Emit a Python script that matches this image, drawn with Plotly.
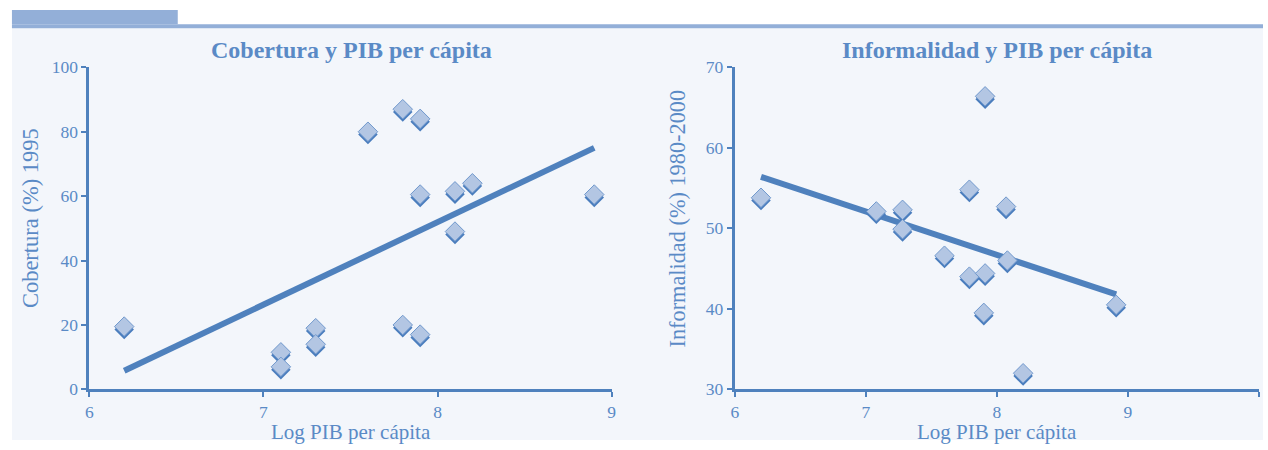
import plotly.graph_objects as go

W, H = 1268, 450

# Left chart: Cobertura (%) 1995 vs Log PIB per cápita
cob_x = [6.2, 7.1, 7.1, 7.3, 7.3, 7.6, 7.8, 7.9, 7.8, 7.9, 7.9, 8.1, 8.1, 8.2, 8.9]
cob_y = [19.5, 11.5, 7.0, 19.0, 14.0, 80.0, 87.0, 84.0, 20.0, 17.0, 60.5, 61.5, 49.0, 64.0, 60.5]
cob_fit_x = [6.2, 8.9]
cob_fit_y = [5.8, 75.0]

# Right chart: Informalidad (%) 1980-2000 vs Log PIB per cápita
inf_x = [6.2, 7.08, 7.28, 7.28, 7.6, 7.79, 7.79, 7.91, 7.91, 7.9, 8.07, 8.08, 8.2, 8.91]
inf_y = [53.8, 52.1, 52.3, 49.9, 46.6, 54.8, 44.0, 66.4, 44.4, 39.5, 52.7, 46.0, 32.0, 40.5]
inf_fit_x = [6.2, 8.91]
inf_fit_y = [56.4, 41.8]

left_xticks = [6, 7, 8, 9]
left_yticks = [0, 20, 40, 60, 80, 100]
right_xticks = [6, 7, 8, 9, 10]
right_yticks = [30, 40, 50, 60, 70]

BLUE = "#4f81bd"
TXT = "#5a8ac6"
FILL = "#b3c6e3"
EDGE = "#7199cd"
SHADOW = "#4a7dbd"
PANEL = "#f3f6fb"
BAND = "#93afd8"
FONT = "Liberation Serif"

# pixel layout
L_X0, L_X1 = 86, 612
R_X0, R_X1 = 736, 1264
Y_TOP, Y_BOT = 60, 397

def px(x):
    return x / W

def py(y):
    return 1 - y / H

fig = go.Figure()

# shadow offsets (3px expressed in each y-axis' units)
l_off = 3 * (100 - 0) / (Y_BOT - Y_TOP)
r_off = 3 * (70 - 30) / (Y_BOT - Y_TOP)

MS = 15

fig.add_trace(go.Scatter(x=cob_fit_x, y=cob_fit_y, mode="lines",
                         line=dict(color=BLUE, width=6), xaxis="x", yaxis="y",
                         showlegend=False, hoverinfo="skip"))
fig.add_trace(go.Scatter(x=cob_x, y=[v - l_off for v in cob_y], mode="markers",
                         marker=dict(symbol="diamond", size=MS, color=SHADOW,
                                     line=dict(width=0)),
                         xaxis="x", yaxis="y", showlegend=False, hoverinfo="skip"))
fig.add_trace(go.Scatter(x=cob_x, y=cob_y, mode="markers",
                         marker=dict(symbol="diamond", size=MS, color=FILL,
                                     line=dict(width=1, color=EDGE)),
                         xaxis="x", yaxis="y", showlegend=False))

fig.add_trace(go.Scatter(x=inf_fit_x, y=inf_fit_y, mode="lines",
                         line=dict(color=BLUE, width=6), xaxis="x2", yaxis="y2",
                         showlegend=False, hoverinfo="skip"))
fig.add_trace(go.Scatter(x=inf_x, y=[v - r_off for v in inf_y], mode="markers",
                         marker=dict(symbol="diamond", size=MS, color=SHADOW,
                                     line=dict(width=0)),
                         xaxis="x2", yaxis="y2", showlegend=False, hoverinfo="skip"))
fig.add_trace(go.Scatter(x=inf_x, y=inf_y, mode="markers",
                         marker=dict(symbol="diamond", size=MS, color=FILL,
                                     line=dict(width=1, color=EDGE)),
                         xaxis="x2", yaxis="y2", showlegend=False))

axis_common = dict(showgrid=False, zeroline=False, showline=True, linecolor=BLUE,
                   linewidth=3, ticks="outside", ticklen=5, tickwidth=2,
                   tickcolor=BLUE, tickfont=dict(family=FONT, size=17.5, color=TXT),
                   fixedrange=True)

fig.update_layout(
    width=W, height=H,
    autosize=False,
    margin=dict(l=0, r=0, t=0, b=0),
    paper_bgcolor="white",
    plot_bgcolor="rgba(0,0,0,0)",
    font=dict(family=FONT, color=TXT),
    xaxis=dict(domain=[px(L_X0), px(L_X1)], range=[6, 9], tickvals=left_xticks,
               anchor="y", **axis_common),
    yaxis=dict(domain=[py(Y_BOT), py(Y_TOP)], range=[0, 100], tickvals=left_yticks,
               anchor="x", **axis_common),
    xaxis2=dict(domain=[px(R_X0), px(R_X1)], range=[6, 10], tickvals=right_xticks,
                anchor="y2", **axis_common),
    yaxis2=dict(domain=[py(Y_BOT), py(Y_TOP)], range=[30, 70], tickvals=right_yticks,
                anchor="x2", **axis_common),
    shapes=[
        dict(type="rect", xref="paper", yref="paper", x0=px(8), x1=1, y0=0, y1=py(19),
             fillcolor=PANEL, line=dict(width=0), layer="below"),
        dict(type="rect", xref="paper", yref="paper", x0=px(8), x1=px(175), y0=py(15), y1=1,
             fillcolor=BAND, line=dict(width=0), layer="below"),
        dict(type="rect", xref="paper", yref="paper", x0=px(8), x1=1, y0=py(19), y1=py(15),
             fillcolor=BAND, line=dict(width=0), layer="below"),
    ],
    annotations=[
        dict(text="<b>Cobertura y PIB per cápita</b>", xref="paper", yref="paper",
             x=px(350), y=py(42), showarrow=False, xanchor="center", yanchor="middle",
             font=dict(family=FONT, size=24, color=TXT)),
        dict(text="<b>Informalidad y PIB per cápita</b>", xref="paper", yref="paper",
             x=px(1000), y=py(42), showarrow=False, xanchor="center", yanchor="middle",
             font=dict(family=FONT, size=24, color=TXT)),
        dict(text="Log PIB per cápita", xref="paper", yref="paper",
             x=px(349), y=py(442), showarrow=False, xanchor="center", yanchor="middle",
             font=dict(family=FONT, size=21, color=TXT)),
        dict(text="Log PIB per cápita", xref="paper", yref="paper",
             x=px(1000), y=py(442), showarrow=False, xanchor="center", yanchor="middle",
             font=dict(family=FONT, size=21, color=TXT)),
        dict(text="Cobertura (%) 1995", xref="paper", yref="paper", textangle=-90,
             x=px(27), y=py(218), showarrow=False, xanchor="center", yanchor="middle",
             font=dict(family=FONT, size=22.5, color=TXT)),
        dict(text="Informalidad (%) 1980-2000", xref="paper", yref="paper", textangle=-90,
             x=px(678), y=py(218), showarrow=False, xanchor="center", yanchor="middle",
             font=dict(family=FONT, size=22.3, color=TXT)),
    ],
)

fig.write_html("out.html")
